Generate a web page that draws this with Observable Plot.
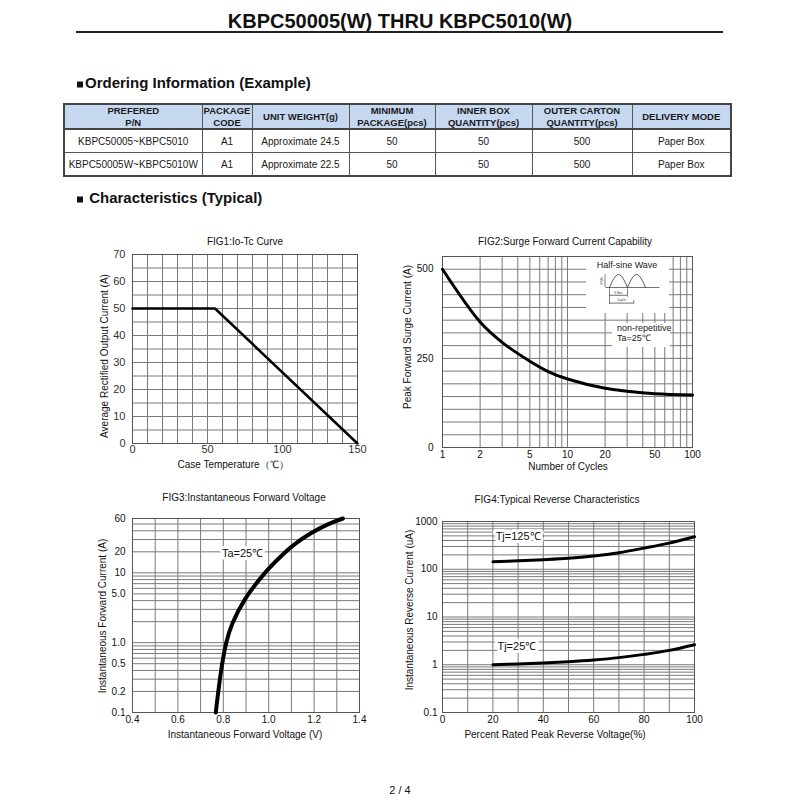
<!DOCTYPE html>
<html><head><meta charset="utf-8">
<script src="https://cdn.jsdelivr.net/npm/d3@7"></script>
<script src="https://cdn.jsdelivr.net/npm/@observablehq/plot@0.6"></script>
<style>
body{margin:0;background:#fff;}
#page{position:relative;width:800px;height:800px;overflow:hidden;background:#fff;font-family:Arial,"Liberation Sans",sans-serif;color:#111;}
.t{position:absolute;white-space:nowrap;line-height:1;transform:translate(-50%,-50%);}
.l{position:absolute;white-space:nowrap;line-height:1;transform:translateY(-50%);}
.rot{position:absolute;white-space:nowrap;line-height:1;transform:translate(-50%,-50%) rotate(-90deg);}
.sq{display:inline-block;width:6px;height:6px;background:#111;margin-right:2px;vertical-align:baseline;}
.box{position:absolute;background:#fff;}
table.order{position:absolute;left:63px;top:103px;width:667px;border-collapse:collapse;table-layout:fixed;border:2px solid #444;font-family:Arial,"Liberation Sans",sans-serif;color:#1a1a1a;}
table.order th{background:#c5d8f0;font-size:9.5px;font-weight:bold;line-height:11.5px;height:22px;border:1px solid #555;border-bottom:2px solid #444;padding:0;text-align:center;}
table.order td{font-size:10px;height:22px;border:1px solid #555;padding:0;text-align:center;}
</style></head>
<body><div id="page"></div>
<script>
// ---------- data ----------
const pageTitle = "KBPC50005(W) THRU KBPC5010(W)";
const tableHeaders = [["PREFERED","P/N"],["PACKAGE","CODE"],["UNIT WEIGHT(g)"],["MINIMUM","PACKAGE(pcs)"],["INNER BOX","QUANTITY(pcs)"],["OUTER CARTON","QUANTITY(pcs)"],["DELIVERY MODE"]];
const tableRows = [
  ["KBPC50005~KBPC5010","A1","Approximate 24.5","50","50","500","Paper Box"],
  ["KBPC50005W~KBPC5010W","A1","Approximate 22.5","50","50","500","Paper Box"]
];
const tableColWidths = [138,50,97,86,97,100,99];

// FIG1
const fig1Temp = [0, 55, 150];
const fig1Current = [50, 50, 0];
const fig1XTicks = [0, 50, 100, 150];
const fig1YTicks = [0, 10, 20, 30, 40, 50, 60, 70];

// FIG2
const fig2Cycles = [1,2,3,5,7,10,20,30,50,100];
const fig2Surge  = [500,352,295,242,213,192,166,158,151,147];
const fig2XTicks = [1,2,5,10,20,50,100];
const fig2YTicks = [0,250,500];

// FIG3
const fig3Voltage = [0.767,0.775,0.793,0.813,0.840,0.896,0.979,1.067,1.118,1.184,1.258,1.327];
const fig3Current = [0.1,0.167,0.451,1.0,1.88,4.2,9.6,18.9,26.2,36.5,49,60];
const fig3XTicks = [0.4,0.6,0.8,1.0,1.2,1.4];
const fig3YTicks = [0.1,0.2,0.5,1,5,10,20,60];
const fig3YTickLabels = ["0.1","0.2","0.5","1.0","5.0","10","20","60"];
const fig3Notes = [{v:0.885, i:19, label:"Ta=25\u2103"}];

// FIG4
const fig4Voltage = [20,30,40,50,60,70,80,90,100];
const fig4Tj125 = [144,150,158,169,189,222,277,353,479];
const fig4Tj25  = [1.0,1.04,1.09,1.16,1.26,1.41,1.65,2.0,2.62];
const fig4XTicks = [0,20,40,60,80,100];
const fig4YTicks = [0.1,1,10,100,1000];
const fig4YTickLabels = ["0.1","1","10","100","1000"];
const fig4Notes = [{p:30, i:480, label:"Tj=125\u2103"},{p:29.5, i:2.42, label:"Tj=25\u2103"}];

// ---------- helpers ----------
const page = document.getElementById("page");
const FONT = "Arial, 'Liberation Sans', sans-serif";
function txt(cls, x, y, s, css){ const d=document.createElement("div"); d.className=cls; d.style.left=x+"px"; d.style.top=y+"px"; d.innerHTML=s; if(css) d.style.cssText+=css; page.appendChild(d); return d; }
function place(el, left, top){ const w=document.createElement("div"); w.style.position="absolute"; w.style.left=left+"px"; w.style.top=top+"px"; w.appendChild(el); page.appendChild(w); return w; }
function logGrid(lo, hi){ const out=[]; for(let e=Math.floor(Math.log10(lo)); e<=Math.ceil(Math.log10(hi)); e++){ for(let m=1;m<10;m++){ const v=+(m*Math.pow(10,e)).toPrecision(6); if(v>=lo-1e-9 && v<=hi+1e-9) out.push(v);} } return out; }
const gridStyle = {stroke:"#7a7a7a", strokeWidth:1};
function xTickText(values, labels, dy){ return Plot.text(values, {x:d=>d, text:(d,i)=>labels[i], frameAnchor:"bottom", lineAnchor:"top", dy}); }
function yTickText(values, labels, dx){ return Plot.text(values, {y:d=>d, text:(d,i)=>labels[i], frameAnchor:"left", textAnchor:"end", dx:-dx}); }

// ---------- header ----------
txt("t", 400, 21, pageTitle, "font-size:20px;font-weight:bold;color:#111;");
const rule = document.createElement("div"); rule.style.cssText="position:absolute;left:76px;top:31px;width:647px;height:2px;background:#222;"; page.appendChild(rule);
txt("l", 77, 82, '<span class="sq"></span>Ordering Information (Example)', "font-size:15px;font-weight:bold;");
txt("l", 77, 197, '<span class="sq"></span> Characteristics (Typical)', "font-size:15px;font-weight:bold;");

// ---------- table ----------
const table = document.createElement("table"); table.className="order";
const cg = document.createElement("colgroup");
tableColWidths.forEach(w=>{const c=document.createElement("col"); c.style.width=w+"px"; cg.appendChild(c);});
table.appendChild(cg);
const hr = document.createElement("tr");
tableHeaders.forEach(h=>{const th=document.createElement("th"); th.innerHTML=h.join("<br>"); hr.appendChild(th);});
table.appendChild(hr);
tableRows.forEach(r=>{const tr=document.createElement("tr"); r.forEach(c=>{const td=document.createElement("td"); td.textContent=c; tr.appendChild(td);}); table.appendChild(tr);});
page.appendChild(table);

// ---------- FIG1 ----------
const fig1Data = fig1Temp.map((t,i)=>({t, io:fig1Current[i]}));
const fig1 = Plot.plot({
  width:280, height:230, marginLeft:42, marginRight:13, marginTop:9, marginBottom:32,
  style:{fontFamily:FONT, fontSize:"11px", color:"#333", background:"transparent", overflow:"visible"},
  x:{domain:[0,150], axis:null}, y:{domain:[0,70], axis:null},
  marks:[
    Plot.ruleX(d3.range(0,151,10), gridStyle),
    Plot.ruleY(d3.range(0,71,5), gridStyle),
    Plot.frame({stroke:"#555"}),
    xTickText(fig1XTicks, fig1XTicks.map(String), 2),
    yTickText(fig1YTicks, fig1YTicks.map(String), 7),
    Plot.line(fig1Data, {x:"t", y:"io", stroke:"#000", strokeWidth:2.5})
  ]
});
place(fig1, 90, 245);
txt("t", 245, 242, "FIG1:Io-Tc Curve", "font-size:10px;");
txt("t", 233, 465, "Case Temperature\uFF08\u2103\uFF09", "font-size:10px;");
txt("rot", 105, 356, "Average Rectified Output Current (A)", "font-size:10px;");

// ---------- FIG2 ----------
const fig2Data = fig2Cycles.map((n,i)=>({n, a:fig2Surge[i]}));
const fig2 = Plot.plot({
  width:320, height:230, marginLeft:52, marginRight:18, marginTop:11, marginBottom:28,
  style:{fontFamily:FONT, fontSize:"10px", color:"#111", background:"transparent", overflow:"visible"},
  x:{type:"log", domain:[1,100], axis:null}, y:{domain:[0,3750/7], axis:null},
  marks:[
    Plot.ruleX(logGrid(1,100), gridStyle),
    Plot.ruleY(d3.range(16).map(i=>i*250/7), gridStyle),
    Plot.frame({stroke:"#555"}),
    xTickText(fig2XTicks, fig2XTicks.map(String), 3),
    yTickText(fig2YTicks, fig2YTicks.map(String), 9),
    Plot.line(fig2Data, {x:"n", y:"a", stroke:"#000", strokeWidth:3, curve:"catmull-rom"})
  ]
});
place(fig2, 390, 245);
txt("t", 565, 242, "FIG2:Surge Forward Current Capability", "font-size:10px;");
txt("t", 568, 467, "Number of Cycles", "font-size:10px;");
txt("rot", 408, 337, "Peak Forward Surge Current (A)", "font-size:10px;");
// inset boxes
const box1 = document.createElement("div"); box1.className="box"; box1.style.cssText+="left:586px;top:257px;width:83px;height:56px;"; page.appendChild(box1);
const box2 = document.createElement("div"); box2.className="box"; box2.style.cssText+="left:612px;top:323px;width:58px;height:24px;"; page.appendChild(box2);
txt("t", 627, 265, "Half-sine Wave", "font-size:9px;color:#222;");
txt("l", 617, 328, "non-repetitive", "font-size:9px;color:#222;");
txt("l", 617, 338, "Ta=25\u2103", "font-size:9px;color:#222;");
// half-sine icon
const humpPts = [];
for (let h=0; h<2; h++) for (let k=0; k<=12; k++){ const u=k/12; humpPts.push({hump:h, x:h+u, y:Math.sin(Math.PI*u)}); }
const iconRulesH = [{y:0,x1:-0.2,x2:2.8},{y:-0.6,x1:0,x2:1},{y:-1.2,x1:0,x2:1.35}];
const iconRulesV = [{x:-0.25,y1:0,y2:1},{x:0,y1:-0.1,y2:-1.3},{x:1,y1:-0.1,y2:-0.75},{x:1.35,y1:-1.0,y2:-1.3}];
const iconTexts = [{x:-0.42,y:0.5,s:"IFSM",r:-90},{x:0.5,y:-0.4,s:"8.3ms",r:0},{x:0.67,y:-1.0,s:"1cycle",r:0}];
const icon = Plot.plot({
  width:62, height:40, margin:0,
  style:{background:"transparent", overflow:"visible", fontFamily:FONT},
  x:{domain:[-0.5,2.944], axis:null}, y:{domain:[-1.615,1.46], axis:null},
  marks:[
    Plot.line(humpPts, {x:"x", y:"y", z:"hump", stroke:"#333", strokeWidth:0.8}),
    Plot.ruleY(iconRulesH, {y:"y", x1:"x1", x2:"x2", stroke:"#333", strokeWidth:0.7}),
    Plot.ruleX(iconRulesV, {x:"x", y1:"y1", y2:"y2", stroke:"#333", strokeWidth:0.6}),
    Plot.text(iconTexts, {x:"x", y:"y", text:"s", rotate:"r", fontSize:3, fill:"#333"})
  ]
});
place(icon, 600, 268);

// ---------- FIG3 ----------
const fig3Data = fig3Voltage.map((v,i)=>({v, i:fig3Current[i]}));
const fig3 = Plot.plot({
  width:280, height:230, marginLeft:42, marginRight:11, marginTop:13, marginBottom:23,
  style:{fontFamily:FONT, fontSize:"10px", color:"#111", background:"transparent", overflow:"visible"},
  x:{domain:[0.4,1.4], axis:null}, y:{type:"log", domain:[0.1,60], axis:null},
  marks:[
    Plot.ruleX(d3.range(4,15).map(d=>d/10), gridStyle),
    Plot.ruleY(logGrid(0.1,60), gridStyle),
    Plot.frame({stroke:"#555"}),
    xTickText(fig3XTicks, fig3XTicks.map(d3.format(".1f")), 3),
    yTickText(fig3YTicks, fig3YTickLabels, 7),
    Plot.line(fig3Data, {x:"v", y:"i", stroke:"#000", strokeWidth:4, curve:"catmull-rom"}),
    Plot.text(fig3Notes, {x:"v", y:"i", text:"label", fontSize:11, fill:"#111", stroke:"white", strokeWidth:6})
  ]
});
place(fig3, 90, 505);
txt("t", 244, 498, "FIG3:Instantaneous Forward Voltage", "font-size:10px;");
txt("t", 245, 735, "Instantaneous Forward Voltage (V)", "font-size:10px;");
txt("rot", 103, 616, "Instantaneous Forward Current (A)", "font-size:10px;");

// ---------- FIG4 ----------
const fig4Data = fig4Voltage.flatMap((p,k)=>[{p, i:fig4Tj125[k], s:"125"},{p, i:fig4Tj25[k], s:"25"}]);
const fig4 = Plot.plot({
  width:320, height:230, marginLeft:52, marginRight:16, marginTop:16, marginBottom:23,
  style:{fontFamily:FONT, fontSize:"10px", color:"#111", background:"transparent", overflow:"visible"},
  x:{domain:[0,100], axis:null}, y:{type:"log", domain:[0.1,1000], axis:null},
  marks:[
    Plot.ruleX(d3.range(0,101,10), gridStyle),
    Plot.ruleY(logGrid(0.1,1000), gridStyle),
    Plot.frame({stroke:"#555"}),
    xTickText(fig4XTicks, fig4XTicks.map(String), 3),
    yTickText(fig4YTicks, fig4YTickLabels, 5),
    Plot.line(fig4Data, {x:"p", y:"i", z:"s", stroke:"#000", strokeWidth:3, curve:"catmull-rom"}),
    Plot.text(fig4Notes, {x:"p", y:"i", text:"label", fontSize:11, fill:"#111", stroke:"white", strokeWidth:6})
  ]
});
place(fig4, 390, 505);
txt("t", 557, 500, "FIG4:Typical Reverse Characteristics", "font-size:10px;");
txt("t", 555, 735, "Percent Rated Peak Reverse Voltage(%)", "font-size:10px;");
txt("rot", 410, 610, "Instantaneous Reverse Current (uA)", "font-size:10px;");

// ---------- footer ----------
txt("t", 400, 790, "2 / 4", "font-size:11px;");
</script>
</body></html>
